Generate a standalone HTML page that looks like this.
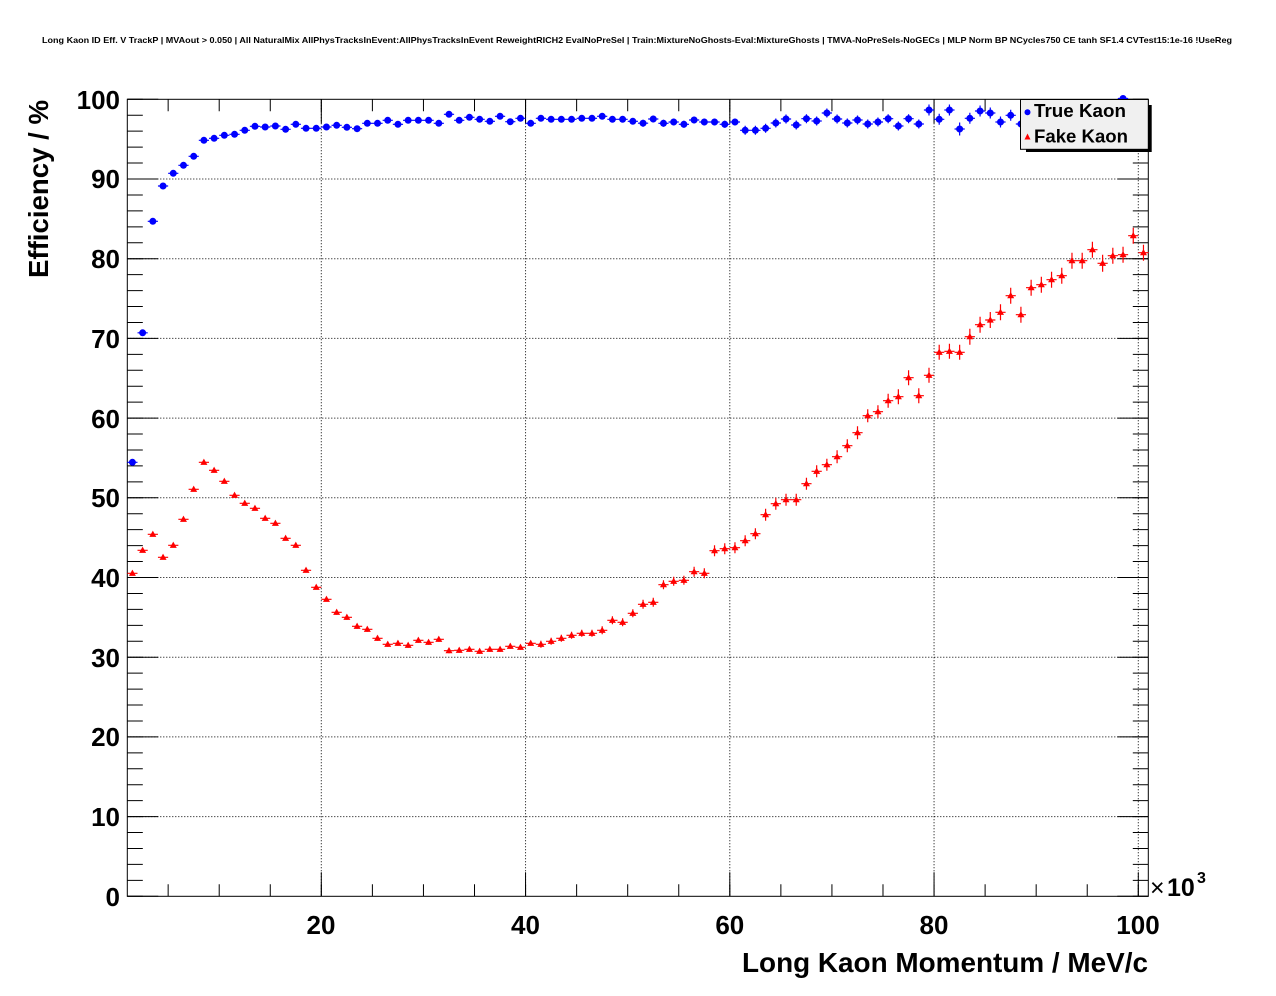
<!DOCTYPE html>
<html><head><meta charset="utf-8"><style>
html,body{margin:0;padding:0;background:#fff;}
svg{display:block;}
text{font-family:"Liberation Sans",Arial,Helvetica,sans-serif;font-weight:bold;fill:#000;}
</style></head><body>
<svg width="1276" height="996" viewBox="0 0 1276 996" xmlns="http://www.w3.org/2000/svg">
<defs>
<circle id="b" r="3.5" fill="#0000ff"/>
<polygon id="r" points="0,-3.7 3.5,2.6 -3.5,2.6" fill="#ff0000"/>
</defs>
<rect width="1276" height="996" fill="#fff"/>
<text x="637" y="43" font-size="8.3" text-anchor="middle" textLength="1190" lengthAdjust="spacingAndGlyphs">Long Kaon ID Eff. V TrackP | MVAout &gt; 0.050 | All NaturalMix AllPhysTracksInEvent:AllPhysTracksInEvent ReweightRICH2 EvalNoPreSel | Train:MixtureNoGhosts-Eval:MixtureGhosts | TMVA-NoPreSels-NoGECs | MLP Norm BP NCycles750 CE tanh SF1.4 CVTest15:1e-16 !UseReg</text>

<!-- grid -->
<g stroke="#000" stroke-width="1" stroke-dasharray="1 2" fill="none">
<path d="M127.3,816.6H1148.3M127.3,736.9H1148.3M127.3,657.2H1148.3M127.3,577.5H1148.3M127.3,497.8H1148.3M127.3,418.1H1148.3M127.3,338.4H1148.3M127.3,258.7H1148.3M127.3,179.0H1148.3"/>
<path d="M321.3,99.3V896.3M525.55,99.3V896.3M729.8,99.3V896.3M934.05,99.3V896.3M1138.3,99.3V896.3"/>
</g>

<!-- ticks -->
<g stroke="#000" fill="none">
<line x1="135.05" y1="896.8" x2="135.05" y2="98.5" stroke-width="15.5" stroke-dasharray="1 14.94"/>
<line x1="142.8" y1="896.8" x2="142.8" y2="98.5" stroke-width="31" stroke-dasharray="1 78.7"/>
<line x1="1140.55" y1="896.8" x2="1140.55" y2="98.5" stroke-width="15.5" stroke-dasharray="1 14.94"/>
<line x1="1132.8" y1="896.8" x2="1132.8" y2="98.5" stroke-width="31" stroke-dasharray="1 78.7"/>
<line x1="167.65" y1="890.3" x2="1140" y2="890.3" stroke-width="12" stroke-dasharray="1 50.06"/>
<line x1="320.8" y1="884.3" x2="1140" y2="884.3" stroke-width="24" stroke-dasharray="1 203.25"/>
<line x1="167.65" y1="105.3" x2="1140" y2="105.3" stroke-width="12" stroke-dasharray="1 50.06"/>
<line x1="320.8" y1="111.3" x2="1140" y2="111.3" stroke-width="24" stroke-dasharray="1 203.25"/>
<rect x="127.3" y="99.3" width="1021" height="797" stroke-width="1"/>
</g>

<!-- y labels -->
<g font-size="26" text-anchor="end">
<text x="120" y="906">0</text>
<text x="120" y="826">10</text>
<text x="120" y="746">20</text>
<text x="120" y="667">30</text>
<text x="120" y="587">40</text>
<text x="120" y="507">50</text>
<text x="120" y="428">60</text>
<text x="120" y="348">70</text>
<text x="120" y="268">80</text>
<text x="120" y="188">90</text>
<text x="120" y="109">100</text>
</g>
<!-- x labels -->
<g font-size="26" text-anchor="middle">
<text x="321" y="934">20</text>
<text x="525.5" y="934">40</text>
<text x="729.8" y="934">60</text>
<text x="934" y="934">80</text>
<text x="1138" y="934">100</text>
</g>
<text x="1150" y="896" font-size="25" font-weight="normal" style="font-weight:normal">×</text>
<text x="1167" y="896" font-size="25">10</text>
<text x="1197" y="883" font-size="16">3</text>

<text x="1148" y="972" font-size="28" text-anchor="end" textLength="406" lengthAdjust="spacingAndGlyphs">Long Kaon Momentum / MeV/c</text>
<text transform="translate(48,100) rotate(-90)" font-size="28" text-anchor="end" textLength="178" lengthAdjust="spacingAndGlyphs">Efficiency / %</text>

<!-- red error bars -->
<path fill="none" stroke="#ff0000" stroke-width="1.2" d="
M132.41,573.3m-5.1,0h10.2m-5.1,-1.5v3
M142.62,550.3m-5.1,0h10.2m-5.1,-1.5v3
M152.83,534.3m-5.1,0h10.2m-5.1,-1.5v3
M163.05,557.3m-5.1,0h10.2m-5.1,-1.5v3
M173.26,545.3m-5.1,0h10.2m-5.1,-1.5v3
M183.47,519.3m-5.1,0h10.2m-5.1,-1.5v3
M193.69,489.3m-5.1,0h10.2m-5.1,-1.5v3
M203.90,462.3m-5.1,0h10.2m-5.1,-1.5v3
M214.11,470.3m-5.1,0h10.2m-5.1,-1.5v3
M224.32,481.3m-5.1,0h10.2m-5.1,-1.5v3
M234.54,495.3m-5.1,0h10.2m-5.1,-1.5v3
M244.75,503.3m-5.1,0h10.2m-5.1,-1.5v3
M254.96,508.3m-5.1,0h10.2m-5.1,-1.5v3
M265.17,518.3m-5.1,0h10.2m-5.1,-1.5v3
M275.39,523.3m-5.1,0h10.2m-5.1,-1.5v3
M285.60,538.3m-5.1,0h10.2m-5.1,-1.5v3
M295.81,545.3m-5.1,0h10.2m-5.1,-1.5v3
M306.03,570.3m-5.1,0h10.2m-5.1,-1.5v3
M316.24,587.3m-5.1,0h10.2m-5.1,-1.5v3
M326.45,599.3m-5.1,0h10.2m-5.1,-1.5v3
M336.66,612.3m-5.1,0h10.2m-5.1,-2.5v5
M346.88,617.3m-5.1,0h10.2m-5.1,-2.5v5
M357.09,626.3m-5.1,0h10.2m-5.1,-2.5v5
M367.30,629.3m-5.1,0h10.2m-5.1,-2.5v5
M377.51,638.3m-5.1,0h10.2m-5.1,-2.5v5
M387.73,644.3m-5.1,0h10.2m-5.1,-2.5v5
M397.94,643.3m-5.1,0h10.2m-5.1,-2.5v5
M408.15,645.3m-5.1,0h10.2m-5.1,-2.5v5
M418.37,640.3m-5.1,0h10.2m-5.1,-2.5v5
M428.58,642.3m-5.1,0h10.2m-5.1,-2.5v5
M438.79,639.3m-5.1,0h10.2m-5.1,-2.5v5
M449.00,650.7m-5.1,0h10.2m-5.1,-2.5v5
M459.22,650.3m-5.1,0h10.2m-5.1,-2.5v5
M469.43,649.3m-5.1,0h10.2m-5.1,-2.5v5
M479.64,651.3m-5.1,0h10.2m-5.1,-2.5v5
M489.85,649.3m-5.1,0h10.2m-5.1,-2.5v5
M500.07,649.3m-5.1,0h10.2m-5.1,-2.5v5
M510.28,646.3m-5.1,0h10.2m-5.1,-2.5v5
M520.49,647.3m-5.1,0h10.2m-5.1,-2.5v5
M530.71,643.3m-5.1,0h10.2m-5.1,-2.5v5
M540.92,644.3m-5.1,0h10.2m-5.1,-3.5v7
M551.13,641.3m-5.1,0h10.2m-5.1,-3.5v7
M561.34,638.3m-5.1,0h10.2m-5.1,-3.5v7
M571.56,635.3m-5.1,0h10.2m-5.1,-3.5v7
M581.77,633.3m-5.1,0h10.2m-5.1,-3.5v7
M591.98,633.3m-5.1,0h10.2m-5.1,-3.5v7
M602.19,630.3m-5.1,0h10.2m-5.1,-4v8
M612.41,620.3m-5.1,0h10.2m-5.1,-4v8
M622.62,622.3m-5.1,0h10.2m-5.1,-4v8
M632.83,613.3m-5.1,0h10.2m-5.1,-4v8
M643.05,604.3m-5.1,0h10.2m-5.1,-4.5v9
M653.26,602.3m-5.1,0h10.2m-5.1,-4.5v9
M663.47,584.7m-5.1,0h10.2m-5.1,-4.5v9
M673.68,581.3m-5.1,0h10.2m-5.1,-4.5v9
M683.90,580.3m-5.1,0h10.2m-5.1,-4.5v9
M694.11,571.7m-5.1,0h10.2m-5.1,-5v10
M704.32,573.3m-5.1,0h10.2m-5.1,-5v10
M714.53,550.7m-5.1,0h10.2m-5.1,-5.5v11
M724.75,548.7m-5.1,0h10.2m-5.1,-5.5v11
M734.96,547.7m-5.1,0h10.2m-5.1,-5.5v11
M745.17,540.7m-5.1,0h10.2m-5.1,-5.5v11
M755.39,533.7m-5.1,0h10.2m-5.1,-5.5v11
M765.60,514.7m-5.1,0h10.2m-5.1,-6v12
M775.81,503.7m-5.1,0h10.2m-5.1,-6v12
M786.02,499.7m-5.1,0h10.2m-5.1,-6v12
M796.24,499.7m-5.1,0h10.2m-5.1,-6v12
M806.45,483.7m-5.1,0h10.2m-5.1,-6v12
M816.66,471.3m-5.1,0h10.2m-5.1,-6v12
M826.87,464.7m-5.1,0h10.2m-5.1,-6v12
M837.09,456.7m-5.1,0h10.2m-5.1,-6.5v13
M847.30,445.7m-5.1,0h10.2m-5.1,-6.5v13
M857.51,432.7m-5.1,0h10.2m-5.1,-6.5v13
M867.73,415.7m-5.1,0h10.2m-5.1,-6.5v13
M877.94,411.7m-5.1,0h10.2m-5.1,-6.5v13
M888.15,400.7m-5.1,0h10.2m-5.1,-7v14
M898.36,396.7m-5.1,0h10.2m-5.1,-7.5v15
M908.58,377.7m-5.1,0h10.2m-5.1,-7.5v15
M918.79,395.7m-5.1,0h10.2m-5.1,-7.5v15
M929.00,375.3m-5.1,0h10.2m-5.1,-7.5v15
M939.21,352.3m-5.1,0h10.2m-5.1,-7.5v15
M949.43,351.3m-5.1,0h10.2m-5.1,-7.5v15
M959.64,352.3m-5.1,0h10.2m-5.1,-7.5v15
M969.85,336.7m-5.1,0h10.2m-5.1,-8v16
M980.07,324.7m-5.1,0h10.2m-5.1,-8v16
M990.28,320.0m-5.1,0h10.2m-5.1,-8v16
M1000.49,312.3m-5.1,0h10.2m-5.1,-8v16
M1010.70,295.7m-5.1,0h10.2m-5.1,-8v16
M1020.92,314.7m-5.1,0h10.2m-5.1,-8v16
M1031.13,287.7m-5.1,0h10.2m-5.1,-8v16
M1041.34,284.7m-5.1,0h10.2m-5.1,-8v16
M1051.55,279.7m-5.1,0h10.2m-5.1,-8v16
M1061.77,275.7m-5.1,0h10.2m-5.1,-8v16
M1071.98,260.7m-5.1,0h10.2m-5.1,-8v16
M1082.19,260.7m-5.1,0h10.2m-5.1,-8v16
M1092.41,249.7m-5.1,0h10.2m-5.1,-8v16
M1102.62,263.3m-5.1,0h10.2m-5.1,-8.5v17
M1112.83,255.7m-5.1,0h10.2m-5.1,-8v16
M1123.04,254.7m-5.1,0h10.2m-5.1,-8v16
M1133.26,235.7m-5.1,0h10.2m-5.1,-8v16
M1143.47,252.7m-5.1,0h10.2m-5.1,-8v16
"/>
<g>
<use href="#r" x="132.41" y="573.3"/><use href="#r" x="142.62" y="550.3"/><use href="#r" x="152.83" y="534.3"/><use href="#r" x="163.05" y="557.3"/><use href="#r" x="173.26" y="545.3"/>
<use href="#r" x="183.47" y="519.3"/><use href="#r" x="193.69" y="489.3"/><use href="#r" x="203.90" y="462.3"/><use href="#r" x="214.11" y="470.3"/><use href="#r" x="224.32" y="481.3"/>
<use href="#r" x="234.54" y="495.3"/><use href="#r" x="244.75" y="503.3"/><use href="#r" x="254.96" y="508.3"/><use href="#r" x="265.17" y="518.3"/><use href="#r" x="275.39" y="523.3"/>
<use href="#r" x="285.60" y="538.3"/><use href="#r" x="295.81" y="545.3"/><use href="#r" x="306.03" y="570.3"/><use href="#r" x="316.24" y="587.3"/><use href="#r" x="326.45" y="599.3"/>
<use href="#r" x="336.66" y="612.3"/><use href="#r" x="346.88" y="617.3"/><use href="#r" x="357.09" y="626.3"/><use href="#r" x="367.30" y="629.3"/><use href="#r" x="377.51" y="638.3"/>
<use href="#r" x="387.73" y="644.3"/><use href="#r" x="397.94" y="643.3"/><use href="#r" x="408.15" y="645.3"/><use href="#r" x="418.37" y="640.3"/><use href="#r" x="428.58" y="642.3"/>
<use href="#r" x="438.79" y="639.3"/><use href="#r" x="449.00" y="650.7"/><use href="#r" x="459.22" y="650.3"/><use href="#r" x="469.43" y="649.3"/><use href="#r" x="479.64" y="651.3"/>
<use href="#r" x="489.85" y="649.3"/><use href="#r" x="500.07" y="649.3"/><use href="#r" x="510.28" y="646.3"/><use href="#r" x="520.49" y="647.3"/><use href="#r" x="530.71" y="643.3"/>
<use href="#r" x="540.92" y="644.3"/><use href="#r" x="551.13" y="641.3"/><use href="#r" x="561.34" y="638.3"/><use href="#r" x="571.56" y="635.3"/><use href="#r" x="581.77" y="633.3"/>
<use href="#r" x="591.98" y="633.3"/><use href="#r" x="602.19" y="630.3"/><use href="#r" x="612.41" y="620.3"/><use href="#r" x="622.62" y="622.3"/><use href="#r" x="632.83" y="613.3"/>
<use href="#r" x="643.05" y="604.3"/><use href="#r" x="653.26" y="602.3"/><use href="#r" x="663.47" y="584.7"/><use href="#r" x="673.68" y="581.3"/><use href="#r" x="683.90" y="580.3"/>
<use href="#r" x="694.11" y="571.7"/><use href="#r" x="704.32" y="573.3"/><use href="#r" x="714.53" y="550.7"/><use href="#r" x="724.75" y="548.7"/><use href="#r" x="734.96" y="547.7"/>
<use href="#r" x="745.17" y="540.7"/><use href="#r" x="755.39" y="533.7"/><use href="#r" x="765.60" y="514.7"/><use href="#r" x="775.81" y="503.7"/><use href="#r" x="786.02" y="499.7"/>
<use href="#r" x="796.24" y="499.7"/><use href="#r" x="806.45" y="483.7"/><use href="#r" x="816.66" y="471.3"/><use href="#r" x="826.87" y="464.7"/><use href="#r" x="837.09" y="456.7"/>
<use href="#r" x="847.30" y="445.7"/><use href="#r" x="857.51" y="432.7"/><use href="#r" x="867.73" y="415.7"/><use href="#r" x="877.94" y="411.7"/><use href="#r" x="888.15" y="400.7"/>
<use href="#r" x="898.36" y="396.7"/><use href="#r" x="908.58" y="377.7"/><use href="#r" x="918.79" y="395.7"/><use href="#r" x="929.00" y="375.3"/><use href="#r" x="939.21" y="352.3"/>
<use href="#r" x="949.43" y="351.3"/><use href="#r" x="959.64" y="352.3"/><use href="#r" x="969.85" y="336.7"/><use href="#r" x="980.07" y="324.7"/><use href="#r" x="990.28" y="320.0"/>
<use href="#r" x="1000.49" y="312.3"/><use href="#r" x="1010.70" y="295.7"/><use href="#r" x="1020.92" y="314.7"/><use href="#r" x="1031.13" y="287.7"/><use href="#r" x="1041.34" y="284.7"/>
<use href="#r" x="1051.55" y="279.7"/><use href="#r" x="1061.77" y="275.7"/><use href="#r" x="1071.98" y="260.7"/><use href="#r" x="1082.19" y="260.7"/><use href="#r" x="1092.41" y="249.7"/>
<use href="#r" x="1102.62" y="263.3"/><use href="#r" x="1112.83" y="255.7"/><use href="#r" x="1123.04" y="254.7"/><use href="#r" x="1133.26" y="235.7"/><use href="#r" x="1143.47" y="252.7"/>
</g>

<!-- blue error bars -->
<path fill="none" stroke="#0000ff" stroke-width="1.2" d="
M132.41,462.3m-5.1,0h10.2m-5.1,-2v4
M142.62,332.8m-5.1,0h10.2m-5.1,-2v4
M152.83,221.3m-5.1,0h10.2m-5.1,-2v4
M163.05,186.0m-5.1,0h10.2m-5.1,-2v4
M173.26,173.3m-5.1,0h10.2m-5.1,-2v4
M183.47,165.3m-5.1,0h10.2m-5.1,-2v4
M193.69,156.3m-5.1,0h10.2m-5.1,-2v4
M203.90,140.3m-5.1,0h10.2m-5.1,-2v4
M214.11,138.3m-5.1,0h10.2m-5.1,-2v4
M224.32,135.3m-5.1,0h10.2m-5.1,-2v4
M234.54,134.3m-5.1,0h10.2m-5.1,-2v4
M244.75,130.3m-5.1,0h10.2m-5.1,-2v4
M254.96,126.3m-5.1,0h10.2m-5.1,-2v4
M265.17,127.0m-5.1,0h10.2m-5.1,-2v4
M275.39,126.0m-5.1,0h10.2m-5.1,-2v4
M285.60,129.3m-5.1,0h10.2m-5.1,-2v4
M295.81,124.3m-5.1,0h10.2m-5.1,-2v4
M306.03,128.3m-5.1,0h10.2m-5.1,-2v4
M316.24,128.3m-5.1,0h10.2m-5.1,-2v4
M326.45,127.0m-5.1,0h10.2m-5.1,-2v4
M336.66,125.3m-5.1,0h10.2m-5.1,-2v4
M346.88,127.3m-5.1,0h10.2m-5.1,-2v4
M357.09,128.7m-5.1,0h10.2m-5.1,-2v4
M367.30,123.3m-5.1,0h10.2m-5.1,-2v4
M377.51,123.3m-5.1,0h10.2m-5.1,-2v4
M387.73,120.3m-5.1,0h10.2m-5.1,-2v4
M397.94,124.3m-5.1,0h10.2m-5.1,-2v4
M408.15,120.3m-5.1,0h10.2m-5.1,-2v4
M418.37,120.3m-5.1,0h10.2m-5.1,-2v4
M428.58,120.3m-5.1,0h10.2m-5.1,-2v4
M438.79,123.3m-5.1,0h10.2m-5.1,-3v6
M449.00,114.3m-5.1,0h10.2m-5.1,-3v6
M459.22,120.3m-5.1,0h10.2m-5.1,-3v6
M469.43,117.3m-5.1,0h10.2m-5.1,-3v6
M479.64,119.3m-5.1,0h10.2m-5.1,-3v6
M489.85,121.3m-5.1,0h10.2m-5.1,-3v6
M500.07,116.3m-5.1,0h10.2m-5.1,-3v6
M510.28,121.7m-5.1,0h10.2m-5.1,-3v6
M520.49,118.3m-5.1,0h10.2m-5.1,-3v6
M530.71,123.3m-5.1,0h10.2m-5.1,-3v6
M540.92,118.3m-5.1,0h10.2m-5.1,-3v6
M551.13,119.3m-5.1,0h10.2m-5.1,-3v6
M561.34,119.3m-5.1,0h10.2m-5.1,-3v6
M571.56,119.3m-5.1,0h10.2m-5.1,-3v6
M581.77,118.3m-5.1,0h10.2m-5.1,-3v6
M591.98,118.3m-5.1,0h10.2m-5.1,-3v6
M602.19,116.3m-5.1,0h10.2m-5.1,-3v6
M612.41,119.3m-5.1,0h10.2m-5.1,-3v6
M622.62,119.3m-5.1,0h10.2m-5.1,-3v6
M632.83,121.3m-5.1,0h10.2m-5.1,-3v6
M643.05,123.2m-5.1,0h10.2m-5.1,-3.5v7
M653.26,119.0m-5.1,0h10.2m-5.1,-3.5v7
M663.47,123.3m-5.1,0h10.2m-5.1,-3.5v7
M673.68,122.0m-5.1,0h10.2m-5.1,-3.5v7
M683.90,124.3m-5.1,0h10.2m-5.1,-3.5v7
M694.11,120.0m-5.1,0h10.2m-5.1,-3.5v7
M704.32,122.0m-5.1,0h10.2m-5.1,-3.5v7
M714.53,122.0m-5.1,0h10.2m-5.1,-3.5v7
M724.75,124.3m-5.1,0h10.2m-5.1,-3.5v7
M734.96,122.0m-5.1,0h10.2m-5.1,-3.5v7
M745.17,130.3m-5.1,0h10.2m-5.1,-4.5v9
M755.39,130.3m-5.1,0h10.2m-5.1,-4.5v9
M765.60,128.3m-5.1,0h10.2m-5.1,-4.5v9
M775.81,123.0m-5.1,0h10.2m-5.1,-4.5v9
M786.02,119.0m-5.1,0h10.2m-5.1,-4.5v9
M796.24,125.0m-5.1,0h10.2m-5.1,-4.5v9
M806.45,118.7m-5.1,0h10.2m-5.1,-4.5v9
M816.66,121.0m-5.1,0h10.2m-5.1,-4.5v9
M826.87,113.0m-5.1,0h10.2m-5.1,-4.5v9
M837.09,119.0m-5.1,0h10.2m-5.1,-4.5v9
M847.30,123.0m-5.1,0h10.2m-5.1,-4.5v9
M857.51,120.0m-5.1,0h10.2m-5.1,-4.5v9
M867.73,124.0m-5.1,0h10.2m-5.1,-4.5v9
M877.94,122.0m-5.1,0h10.2m-5.1,-4.5v9
M888.15,118.7m-5.1,0h10.2m-5.1,-4.5v9
M898.36,126.0m-5.1,0h10.2m-5.1,-4.5v9
M908.58,118.7m-5.1,0h10.2m-5.1,-4.5v9
M918.79,124.0m-5.1,0h10.2m-5.1,-4.5v9
M929.00,110.0m-5.1,0h10.2m-5.1,-5.5v11
M939.21,119.3m-5.1,0h10.2m-5.1,-5.5v11
M949.43,110.0m-5.1,0h10.2m-5.1,-5.5v11
M959.64,129.0m-5.1,0h10.2m-5.1,-6.5v13
M969.85,118.3m-5.1,0h10.2m-5.1,-5.5v11
M980.07,111.0m-5.1,0h10.2m-5.1,-5.5v11
M990.28,113.0m-5.1,0h10.2m-5.1,-5.5v11
M1000.49,122.0m-5.1,0h10.2m-5.1,-5.5v11
M1010.70,115.3m-5.1,0h10.2m-5.1,-5.5v11
M1020.92,124.0m-5.1,0h10.2m-5.1,-5.5v11
M1031.13,117m-5.1,0h10.2m-5.1,-5.5v11
M1041.34,114m-5.1,0h10.2m-5.1,-5.5v11
M1051.55,112m-5.1,0h10.2m-5.1,-5.5v11
M1061.77,116m-5.1,0h10.2m-5.1,-5.5v11
M1071.98,113m-5.1,0h10.2m-5.1,-5.5v11
M1082.19,115m-5.1,0h10.2m-5.1,-5.5v11
M1092.41,112m-5.1,0h10.2m-5.1,-5.5v11
M1102.62,117m-5.1,0h10.2m-5.1,-5.5v11
M1112.83,114m-5.1,0h10.2m-5.1,-5.5v11
M1123.04,98.5m-5.1,0h10.2m-5.1,-1v2
M1133.26,113m-5.1,0h10.2m-5.1,-5.5v11
M1143.47,116m-5.1,0h10.2m-5.1,-5.5v11
"/>
<g>
<use href="#b" x="132.41" y="462.3"/><use href="#b" x="142.62" y="332.8"/><use href="#b" x="152.83" y="221.3"/><use href="#b" x="163.05" y="186.0"/><use href="#b" x="173.26" y="173.3"/>
<use href="#b" x="183.47" y="165.3"/><use href="#b" x="193.69" y="156.3"/><use href="#b" x="203.90" y="140.3"/><use href="#b" x="214.11" y="138.3"/><use href="#b" x="224.32" y="135.3"/>
<use href="#b" x="234.54" y="134.3"/><use href="#b" x="244.75" y="130.3"/><use href="#b" x="254.96" y="126.3"/><use href="#b" x="265.17" y="127.0"/><use href="#b" x="275.39" y="126.0"/>
<use href="#b" x="285.60" y="129.3"/><use href="#b" x="295.81" y="124.3"/><use href="#b" x="306.03" y="128.3"/><use href="#b" x="316.24" y="128.3"/><use href="#b" x="326.45" y="127.0"/>
<use href="#b" x="336.66" y="125.3"/><use href="#b" x="346.88" y="127.3"/><use href="#b" x="357.09" y="128.7"/><use href="#b" x="367.30" y="123.3"/><use href="#b" x="377.51" y="123.3"/>
<use href="#b" x="387.73" y="120.3"/><use href="#b" x="397.94" y="124.3"/><use href="#b" x="408.15" y="120.3"/><use href="#b" x="418.37" y="120.3"/><use href="#b" x="428.58" y="120.3"/>
<use href="#b" x="438.79" y="123.3"/><use href="#b" x="449.00" y="114.3"/><use href="#b" x="459.22" y="120.3"/><use href="#b" x="469.43" y="117.3"/><use href="#b" x="479.64" y="119.3"/>
<use href="#b" x="489.85" y="121.3"/><use href="#b" x="500.07" y="116.3"/><use href="#b" x="510.28" y="121.7"/><use href="#b" x="520.49" y="118.3"/><use href="#b" x="530.71" y="123.3"/>
<use href="#b" x="540.92" y="118.3"/><use href="#b" x="551.13" y="119.3"/><use href="#b" x="561.34" y="119.3"/><use href="#b" x="571.56" y="119.3"/><use href="#b" x="581.77" y="118.3"/>
<use href="#b" x="591.98" y="118.3"/><use href="#b" x="602.19" y="116.3"/><use href="#b" x="612.41" y="119.3"/><use href="#b" x="622.62" y="119.3"/><use href="#b" x="632.83" y="121.3"/>
<use href="#b" x="643.05" y="123.2"/><use href="#b" x="653.26" y="119.0"/><use href="#b" x="663.47" y="123.3"/><use href="#b" x="673.68" y="122.0"/><use href="#b" x="683.90" y="124.3"/>
<use href="#b" x="694.11" y="120.0"/><use href="#b" x="704.32" y="122.0"/><use href="#b" x="714.53" y="122.0"/><use href="#b" x="724.75" y="124.3"/><use href="#b" x="734.96" y="122.0"/>
<use href="#b" x="745.17" y="130.3"/><use href="#b" x="755.39" y="130.3"/><use href="#b" x="765.60" y="128.3"/><use href="#b" x="775.81" y="123.0"/><use href="#b" x="786.02" y="119.0"/>
<use href="#b" x="796.24" y="125.0"/><use href="#b" x="806.45" y="118.7"/><use href="#b" x="816.66" y="121.0"/><use href="#b" x="826.87" y="113.0"/><use href="#b" x="837.09" y="119.0"/>
<use href="#b" x="847.30" y="123.0"/><use href="#b" x="857.51" y="120.0"/><use href="#b" x="867.73" y="124.0"/><use href="#b" x="877.94" y="122.0"/><use href="#b" x="888.15" y="118.7"/>
<use href="#b" x="898.36" y="126.0"/><use href="#b" x="908.58" y="118.7"/><use href="#b" x="918.79" y="124.0"/><use href="#b" x="929.00" y="110.0"/><use href="#b" x="939.21" y="119.3"/>
<use href="#b" x="949.43" y="110.0"/><use href="#b" x="959.64" y="129.0"/><use href="#b" x="969.85" y="118.3"/><use href="#b" x="980.07" y="111.0"/><use href="#b" x="990.28" y="113.0"/>
<use href="#b" x="1000.49" y="122.0"/><use href="#b" x="1010.70" y="115.3"/><use href="#b" x="1020.92" y="124.0"/><use href="#b" x="1031.13" y="117"/><use href="#b" x="1041.34" y="114"/>
<use href="#b" x="1051.55" y="112"/><use href="#b" x="1061.77" y="116"/><use href="#b" x="1071.98" y="113"/><use href="#b" x="1082.19" y="115"/><use href="#b" x="1092.41" y="112"/>
<use href="#b" x="1102.62" y="117"/><use href="#b" x="1112.83" y="114"/><use href="#b" x="1123.04" y="98.5"/><use href="#b" x="1133.26" y="113"/><use href="#b" x="1143.47" y="116"/>
</g>

<!-- legend -->
<rect x="1026" y="105" width="125.7" height="47" fill="#000"/>
<rect x="1020.5" y="99.5" width="127.8" height="49.8" fill="#f0f0f0" stroke="#000" stroke-width="1"/>
<circle cx="1027.5" cy="112.3" r="3" fill="#0000ff"/>
<polygon points="1027.5,133.5 1030.5,139.5 1024.5,139.5" fill="#ff0000"/>
<text x="1034" y="117" font-size="18.5" textLength="92" lengthAdjust="spacingAndGlyphs">True Kaon</text>
<text x="1034" y="142.5" font-size="18.5" textLength="94" lengthAdjust="spacingAndGlyphs">Fake Kaon</text>
</svg>
</body></html>
